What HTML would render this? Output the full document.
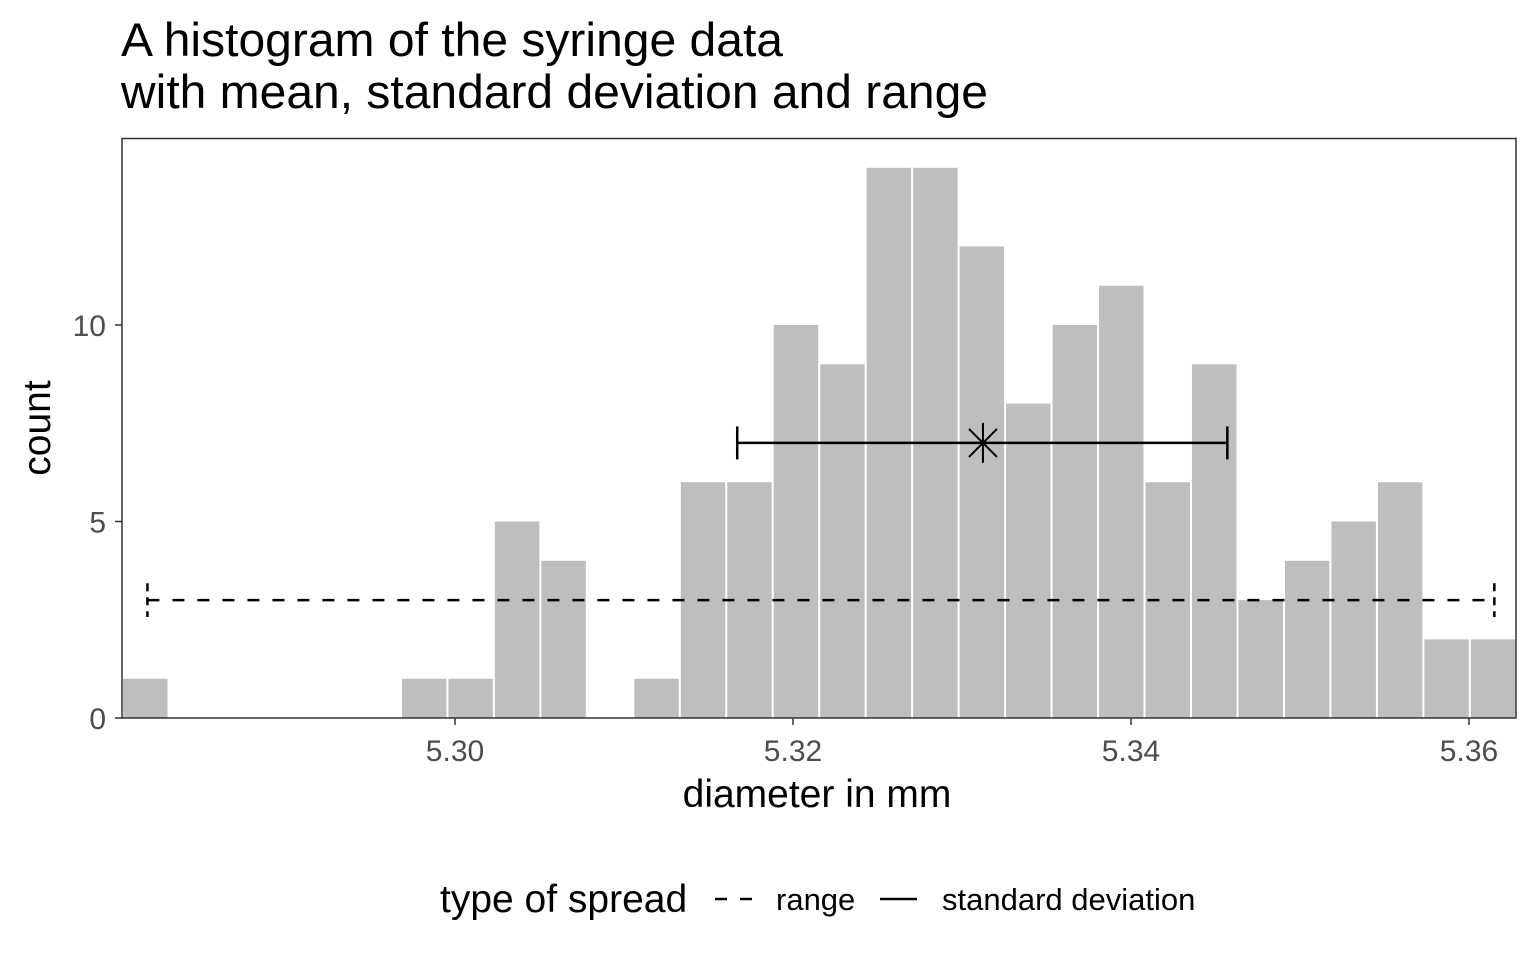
<!DOCTYPE html>
<html><head><meta charset="utf-8"><style>
body{margin:0;background:#fff;width:1536px;height:960px;overflow:hidden}
text{font-family:"Liberation Sans",sans-serif}
</style></head><body>
<svg id="chart" width="1536" height="960" xmlns="http://www.w3.org/2000/svg">
<text x="121" y="56" font-size="47" fill="#000" textLength="662" lengthAdjust="spacingAndGlyphs">A histogram of the syringe data</text>
<text x="121" y="108" font-size="47" fill="#000" textLength="867" lengthAdjust="spacingAndGlyphs">with mean, standard deviation and range</text>
<g id="bars"></g>
<g id="marks"></g>
<rect x="122" y="138.5" width="1394" height="579.5" fill="none" stroke="#333" stroke-width="1.5"/>
<g id="axes"></g>
<text x="817" y="807" font-size="39" text-anchor="middle">diameter in mm</text>
<text transform="translate(50,428) rotate(-90)" font-size="39" text-anchor="middle">count</text>
<g>
<text x="440" y="912" font-size="39">type of spread</text>
<line x1="715" y1="899" x2="752" y2="899" stroke="#000" stroke-width="2.5" stroke-dasharray="12,13"/>
<text x="776" y="910" font-size="31">range</text>
<line x1="880" y1="899" x2="917" y2="899" stroke="#000" stroke-width="2.5"/>
<text x="942" y="910" font-size="31">standard deviation</text>
</g>
</svg>
<script>
const binStart = 5.2803;
const binWidth = 0.00275;
const counts = [1,0,0,0,0,0,1,1,5,4,0,1,6,6,10,9,14,14,12,8,10,11,6,9,3,4,5,6,2,2];
const xTicks = [5.30,5.32,5.34,5.36];
const xTickLabels = ["5.30","5.32","5.34","5.36"];
const yTicks = [0,5,10];
const meanVal = [5.33124];
const sdRange = [5.3167,5.3457];
const sdY = [7];
const fullRange = [5.2818,5.3615];
const rangeY = [3];
const NS="http://www.w3.org/2000/svg";
const X=v=>455+(v-5.30)*16900;
const Y=v=>718-v*39.3;
function mk(tag,attrs,parent){const e=document.createElementNS(NS,tag);for(const k in attrs)e.setAttribute(k,attrs[k]);parent.appendChild(e);return e;}
const bars=document.getElementById('bars');
counts.forEach((c,i)=>{
  if(c<=0)return;
  const x0=X(binStart+i*binWidth),x1=X(binStart+(i+1)*binWidth);
  const r=mk('rect',{x:x0+1,y:Y(c),width:x1-x0-2,height:Y(0)-Y(c),fill:'#bebebe'},bars);
  
  
});
const m=document.getElementById('marks');
{
  const y=Y(rangeY[0]),a=X(fullRange[0]),b=X(fullRange[1]);
  const l=mk('line',{x1:a,y1:y,x2:b,y2:y,stroke:'#000','stroke-width':2.5,'stroke-dasharray':'12,13'},m);
  
  
  [a,b].forEach(x=>{const c=mk('line',{x1:x,y1:Y(rangeY[0]+0.43),x2:x,y2:Y(rangeY[0]-0.43),stroke:'#000','stroke-width':2.5,'stroke-dasharray':'8,6'},m);
    
    });
}
{
  const y=Y(sdY[0]),a=X(sdRange[0]),b=X(sdRange[1]);
  const l=mk('line',{x1:a,y1:y,x2:b,y2:y,stroke:'#000','stroke-width':2.5},m);
  
  
  [a,b].forEach(x=>{const c=mk('line',{x1:x,y1:Y(sdY[0]+0.42),x2:x,y2:Y(sdY[0]-0.42),stroke:'#000','stroke-width':2.5},m);
    
    });
  const mx=X(meanVal[0]);
  const g=mk('g',{stroke:'#000','stroke-width':2},m);
  
  
  mk('line',{x1:mx-14,y1:y-14,x2:mx+14,y2:y+14},g);
  mk('line',{x1:mx-14,y1:y+14,x2:mx+14,y2:y-14},g);
  mk('line',{x1:mx,y1:y-20,x2:mx,y2:y+20},g);
}
const ax=document.getElementById('axes');
xTicks.forEach((t,i)=>{
  const x=X(t);
  mk('line',{x1:x,y1:718,x2:x,y2:725,stroke:'#333','stroke-width':1.5},ax);
  const tx=mk('text',{x:x,y:761,'font-size':30,fill:'#4d4d4d','text-anchor':'middle'},ax);
  tx.textContent=xTickLabels[i];
  
  
});
yTicks.forEach(t=>{
  const y=Y(t);
  mk('line',{x1:115,y1:y,x2:122,y2:y,stroke:'#333','stroke-width':1.5},ax);
  const tx=mk('text',{x:106,y:y+11,'font-size':30,fill:'#4d4d4d','text-anchor':'end'},ax);
  tx.textContent=String(t);
  
  
});
</script>
</body></html>
